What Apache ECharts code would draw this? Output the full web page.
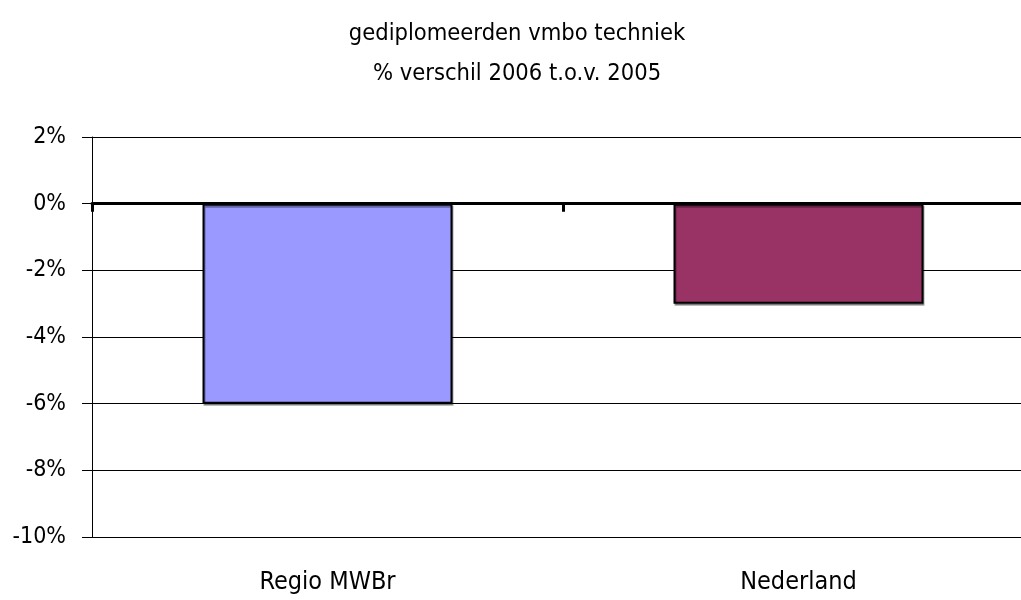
<!DOCTYPE html>
<html>
<head>
<meta charset="utf-8">
<script src="https://cdn.jsdelivr.net/npm/echarts@6/dist/echarts.min.js"></script>
<style>
  html, body { margin: 0; padding: 0; background: #fff; overflow: hidden; }
  /* plot area runs past the right edge of the window, like the original */
  #chart { width: 1034px; height: 600px; }
</style>
</head>
<body>
<div id="chart"></div>
<script>
// data
const categories = ['Regio MWBr', 'Nederland'];
const values = [-6, -3];
const barColors = ['#9999FF', '#993366'];
const titleLines = ['gediplomeerden vmbo techniek', '% verschil 2006 t.o.v. 2005'];

const font = '"Liberation Sans Narrow", "DejaVu Sans Condensed", sans-serif';

const chart = echarts.init(document.getElementById('chart'));

const option = {
  animation: false,
  title: {
    text: titleLines.join('\n'),
    left: 'center',
    top: 9,
    padding: [5, 14, 5, 0],
    textStyle: {
      fontFamily: font,
      fontSize: 23.5,
      fontWeight: 'normal',
      color: '#000',
      lineHeight: 40
    }
  },
  grid: { left: 92, right: 0, top: 137, bottom: 63, containLabel: false },
  xAxis: [
    {
      type: 'category',
      data: categories,
      position: 'bottom',
      axisLine: { show: false, onZero: false },
      axisTick: { show: false },
      axisLabel: { margin: 33, fontFamily: font, fontSize: 25, color: '#000' }
    },
    {
      // zero line with category ticks
      type: 'category',
      data: categories,
      position: 'bottom',
      axisLine: { show: true, onZero: true, lineStyle: { color: '#000', width: 3 } },
      axisTick: { show: true, length: 8, lineStyle: { color: '#000', width: 3 } },
      axisLabel: { show: false }
    }
  ],
  yAxis: {
    type: 'value',
    min: -10,
    max: 2,
    interval: 2,
    axisLine: { show: true, lineStyle: { color: '#000', width: 1 } },
    axisTick: { show: true, length: 10, lineStyle: { color: '#000' } },
    axisLabel: {
      formatter: '{value}%',
      margin: 26,
      fontFamily: font,
      fontSize: 23,
      color: '#000'
    },
    splitLine: { show: true, lineStyle: { color: '#000', width: 1 } }
  },
  series: [{
    type: 'bar',
    xAxisIndex: 0,
    barWidth: 250,
    data: values.map((v, i) => ({
      value: v,
      itemStyle: { color: barColors[i] }
    })),
    itemStyle: {
      borderColor: '#000',
      borderWidth: 2,
      shadowColor: 'rgba(0,0,0,0.35)',
      shadowOffsetX: 1,
      shadowOffsetY: 2
    }
  }]
};

chart.setOption(option);
</script>
</body>
</html>
